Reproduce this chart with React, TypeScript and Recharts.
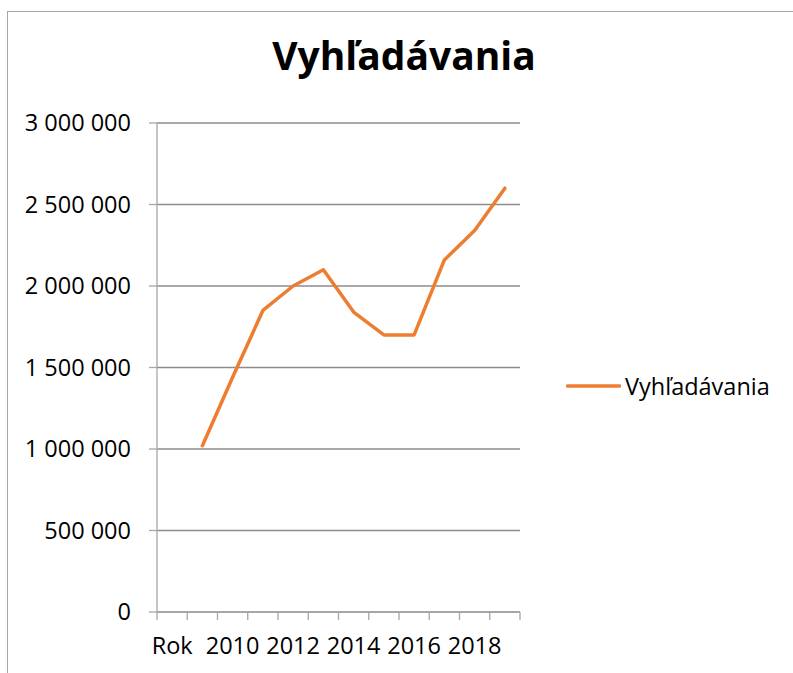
import { LineChart, Line, XAxis, YAxis, CartesianGrid } from 'recharts';

const years = ['Rok', '2009', '2010', '2011', '2012', '2013', '2014', '2015', '2016', '2017', '2018', '2019'];
const searches: (number | null)[] = [
  null, 1020000, 1440000, 1850000, 2000000, 2100000, 1840000, 1700000, 1700000, 2160000, 2340000, 2600000,
];
const yTicks = [0, 500000, 1000000, 1500000, 2000000, 2500000, 3000000];

const chartData = years.map((year, i) => ({ year, value: searches[i] }));

const FONT = '"Open Sans", sans-serif';
const ORANGE = '#ED7D31';
const LABEL_SIZE = 23.5;

const formatNumber = (v: number) => String(v).replace(/\B(?=(\d{3})+(?!\d))/g, ' ');

// Excel puts tick marks between categories and labels every other one
function CategoryTick(props: any) {
  const { x, y, payload } = props;
  const half = payload?.offset ?? 15;
  const idx = payload?.index ?? 0;
  const isLast = idx === years.length - 1;
  return (
    <g>
      <line x1={x - half} x2={x - half} y1={y - 8} y2={y} stroke="#a6a6a6" strokeWidth={1.3} />
      {isLast && <line x1={x + half} x2={x + half} y1={y - 8} y2={y} stroke="#a6a6a6" strokeWidth={1.3} />}
      {idx % 2 === 0 && (
        <text x={x} y={y + 17} dy="0.71em" textAnchor="middle" fill="#000" fontSize={LABEL_SIZE} fontFamily={FONT}>
          {payload.value}
        </text>
      )}
    </g>
  );
}

export default function App() {
  return (
    <div style={{ position: 'absolute', left: 0, top: 0, width: 793, height: 673, background: '#fff', overflow: 'hidden' }}>
      <div
        style={{
          position: 'absolute',
          left: 7,
          top: 11,
          width: 800,
          height: 700,
          borderLeft: '1.5px solid #a6a6a6',
          borderTop: '1.5px solid #a6a6a6',
        }}
      />
      <div
        style={{
          position: 'absolute',
          left: 0,
          width: 808,
          top: 29,
          textAlign: 'center',
          fontFamily: FONT,
          fontWeight: 700,
          fontSize: 39,
          lineHeight: '52px',
          color: '#000',
        }}
      >
        Vyhľadávania
      </div>
      <div
        style={{
          position: 'absolute',
          left: 566,
          top: 370,
          display: 'flex',
          alignItems: 'center',
          fontFamily: FONT,
          fontSize: LABEL_SIZE,
          color: '#000',
          lineHeight: '32px',
        }}
      >
        <svg width={55} height={6} style={{ marginRight: 4 }}>
          <line x1={1.5} x2={53.5} y1={3} y2={3} stroke={ORANGE} strokeWidth={3.5} strokeLinecap="round" />
        </svg>
        <span>Vyhľadávania</span>
      </div>
      <div style={{ position: 'absolute', left: 0, top: 0 }}>
        <LineChart width={793} height={673} data={chartData} margin={{ top: 123, right: 273, bottom: 0, left: 7 }}>
          <CartesianGrid vertical={false} stroke="#8d8d8d" strokeWidth={1.3} />
          <XAxis
            dataKey="year"
            scale="band"
            interval={0}
            height={61}
            tick={<CategoryTick />}
            tickLine={false}
            axisLine={{ stroke: '#a6a6a6', strokeWidth: 1.3 }}
          />
          <YAxis
            width={150}
            domain={[0, 3000000]}
            ticks={yTicks}
            tickFormatter={formatNumber}
            tickSize={8}
            tickMargin={18}
            tick={{ fontSize: LABEL_SIZE, fill: '#000', fontFamily: FONT }}
            tickLine={{ stroke: '#a6a6a6', strokeWidth: 1.3 }}
            axisLine={{ stroke: '#a6a6a6', strokeWidth: 1.3 }}
          />
          <Line
            type="linear"
            dataKey="value"
            name="Vyhľadávania"
            stroke={ORANGE}
            strokeWidth={3.5}
            strokeLinecap="round"
            strokeLinejoin="round"
            dot={false}
            activeDot={false}
            isAnimationActive={false}
          />
        </LineChart>
      </div>
    </div>
  );
}
